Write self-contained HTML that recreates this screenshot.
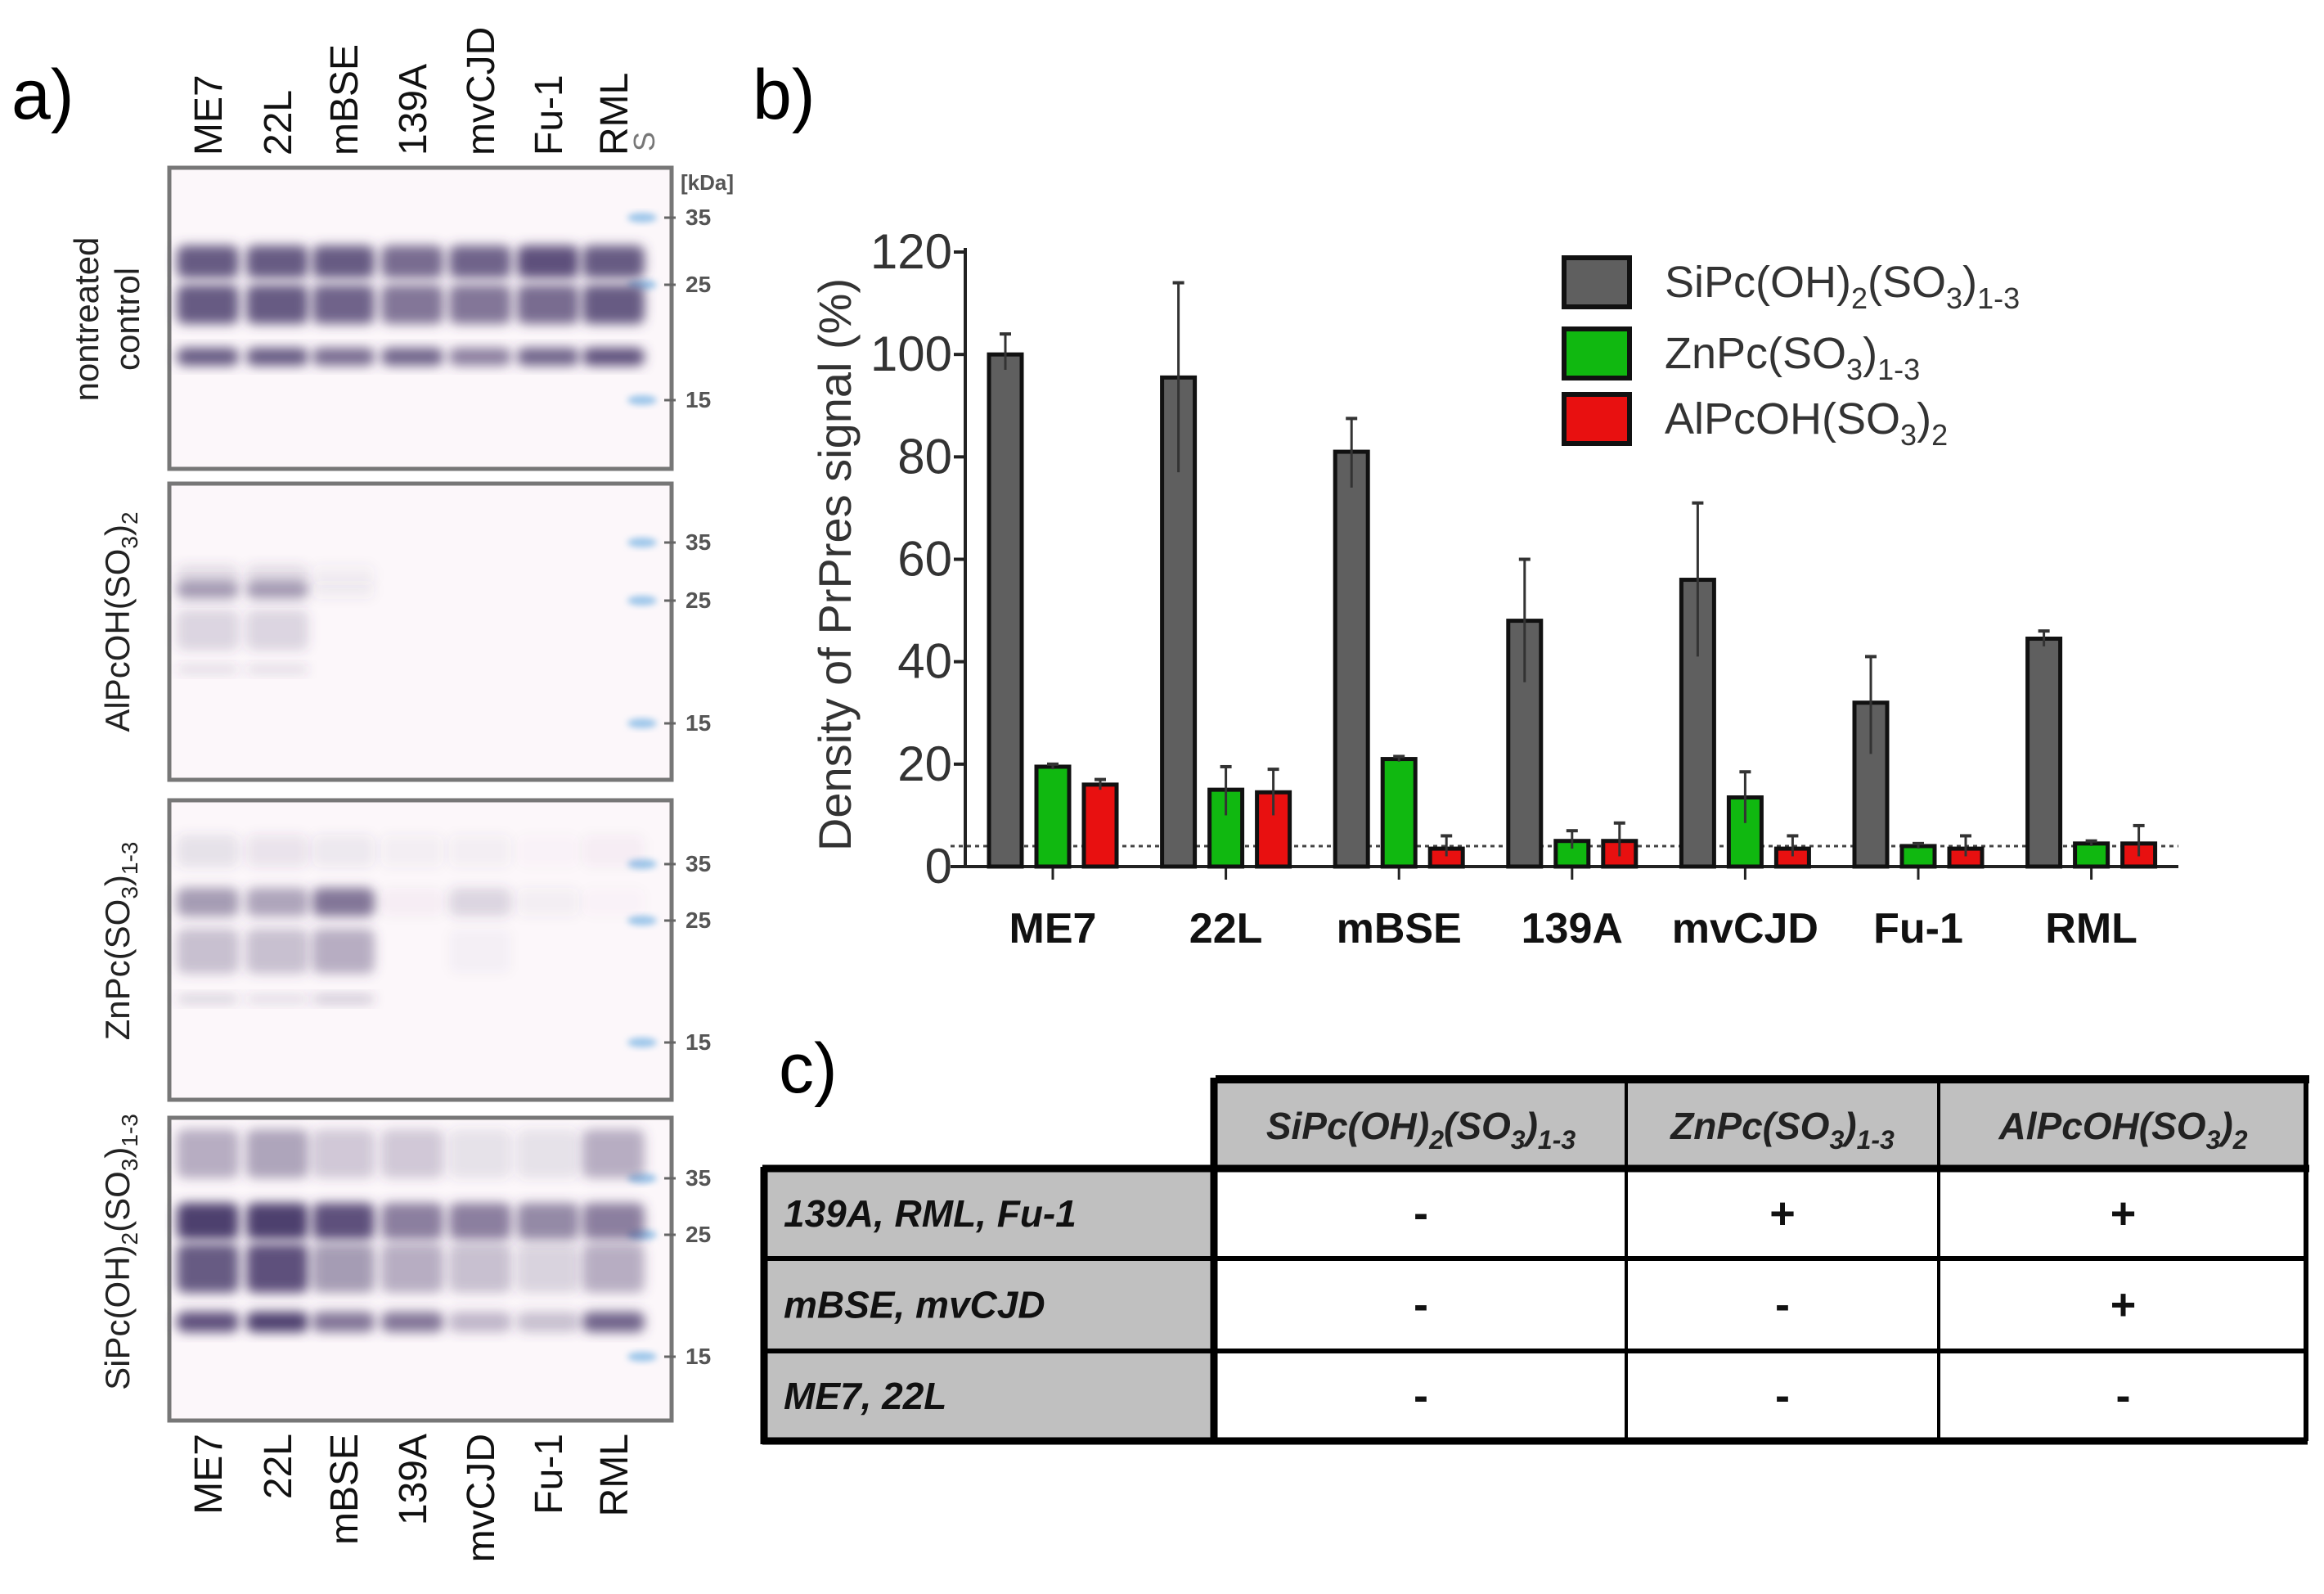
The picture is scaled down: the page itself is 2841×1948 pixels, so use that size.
<!DOCTYPE html>
<html><head><meta charset="utf-8"><style>
html,body{margin:0;padding:0;background:#fff;}
svg{display:block;font-family:"Liberation Sans",sans-serif;}
</style></head><body>
<svg id="fig" width="2841" height="1948" viewBox="0 0 2841 1948" xmlns="http://www.w3.org/2000/svg">
<defs>
<filter id="blur" x="-20%" y="-50%" width="140%" height="200%"><feGaussianBlur stdDeviation="7"/></filter>
<filter id="blur2" x="-20%" y="-50%" width="140%" height="200%"><feGaussianBlur stdDeviation="4"/></filter>
</defs>
<text x="14" y="145" font-size="86">a)</text>
<text x="920" y="145" font-size="86">b)</text>
<text x="952" y="1335" font-size="86">c)</text>
<g id="blots"></g>
<g id="chart"></g>
<g id="table"></g>
</svg>
<script>
const NS="http://www.w3.org/2000/svg";
function mk(tag,attrs,parent,txt){const e=document.createElementNS(NS,tag);for(const k in attrs)e.setAttribute(k,attrs[k]);if(txt!==undefined)e.textContent=txt;parent.appendChild(e);return e;}

// ---------- chart data ----------
const categories=["ME7","22L","mBSE","139A","mvCJD","Fu-1","RML"];
const siValues=[100,95.5,81,48,56,32,44.5];
const siErrHi=[104,114,87.5,60,71,41,46];
const siErrLo=[97,77,74,36,41,22,43];
const znValues=[19.5,15,21,5,13.5,4,4.5];
const znErrHi=[20,19.5,21.5,7,18.5,4.5,5];
const znErrLo=[19,10,20.5,3.5,8.5,3.5,4];
const alValues=[16,14.5,3.5,5,3.5,3.5,4.5];
const alErrHi=[17,19,6,8.5,6,6,8];
const alErrLo=[15,10,2,2,2,2,2];
const yTicks=[0,20,40,60,80,100,120];
const baselineValue=4;

const chart=document.getElementById('chart');
const X0=1180,X1=2663,Y0=1059,Y120=308;
const y=v=>Y0-(v/120)*(Y0-Y120);
const catX=i=>1287+i*211.6;
const bw=40;
let e;
e=mk('line',{x1:X0,y1:Y120-5,x2:X0,y2:Y0,stroke:'#222','stroke-width':4},chart);

e=mk('line',{x1:1162,y1:Y0,x2:X1,y2:Y0,stroke:'#222','stroke-width':4},chart);

yTicks.forEach(t=>{
  mk('line',{x1:X0-14,y1:y(t),x2:X0,y2:y(t),stroke:'#222','stroke-width':4},chart);
  e=mk('text',{x:X0-16,y:y(t)+20,'font-size':60,'text-anchor':'end',fill:'#333'},chart,String(t));
  
});
e=mk('text',{x:0,y:0,'font-size':56,'text-anchor':'middle',fill:'#333',transform:'translate(1040,690) rotate(-90)'},chart,'Density of PrPres signal (%)');

e=mk('line',{x1:1162,y1:y(baselineValue),x2:X1,y2:y(baselineValue),stroke:'#444','stroke-width':3,'stroke-dasharray':'5,5'},chart);

const series=[[siValues,siErrHi,siErrLo,'#5f5f5f',-58,'si'],[znValues,znErrHi,znErrLo,'#10b810',0,'zn'],[alValues,alErrHi,alErrLo,'#e81010',58,'al']];
categories.forEach((c,i)=>{
  const cx=catX(i);
  mk('line',{x1:cx,y1:Y0,x2:cx,y2:Y0+16,stroke:'#222','stroke-width':3},chart);
  e=mk('text',{x:cx,y:Y0+93,'font-size':52,'font-weight':'bold','text-anchor':'middle',fill:'#111'},chart,c);
  
  series.forEach(s=>{
    const bx=cx+s[4];
    e=mk('rect',{x:bx-bw/2,y:y(s[0][i]),width:bw,height:Y0-y(s[0][i]),fill:s[3],stroke:'#111','stroke-width':5},chart);
    
    mk('line',{x1:bx,y1:y(s[1][i]),x2:bx,y2:y(s[2][i]),stroke:'#333','stroke-width':3},chart);
    mk('line',{x1:bx-7,y1:y(s[1][i]),x2:bx+7,y2:y(s[1][i]),stroke:'#333','stroke-width':4},chart);
  });
});
const legNames=[['SiPc(OH)','2','(SO','3',')','1-3'],['ZnPc(SO','3',')','1-3'],['AlPcOH(SO','3',')','2']];
const legCols=['#5f5f5f','#10b810','#e81010'];
const legY=[315,402,482];
legNames.forEach((parts,k)=>{
  e=mk('rect',{x:1912,y:legY[k],width:80,height:60,fill:legCols[k],stroke:'#111','stroke-width':6},chart);
  
  const t=mk('text',{x:2035,y:legY[k]+48,'font-size':54,fill:'#333'},chart);
  
  parts.forEach((p,j)=>{const sub=(parts.length===6?[1,3,5]:[1,3]).includes(j);
    const ts=mk('tspan',{},t,p);if(sub){ts.setAttribute('font-size',36);ts.setAttribute('dy',14);}else if(j>0){ts.setAttribute('dy',-14);}});
});

// ---------- blots ----------
const blots=document.getElementById('blots');
const panels=[[205,573],[591,953],[978,1344],[1366,1736]];
const lanesX=[254,339,420,504,587,670,750];
const laneNames=["ME7","22L","mBSE","139A","mvCJD","Fu-1","RML"];
const markerY=[[266,348,489],[663,734,884],[1056,1125,1274],[1440,1509,1658]];
const bands=[
 [0,300,40,[.85,.85,.85,.75,.8,.9,.85]],[0,348,48,[.85,.85,.8,.7,.7,.75,.85]],[0,425,22,[.85,.85,.75,.8,.65,.8,.9]],
 [1,690,25,[.15,.15,.05,0,0,0,0]],[1,710,22,[.5,.5,.06,0,0,0,0]],[1,745,50,[.18,.18,0,0,0,0,0]],[1,812,12,[.15,.15,0,0,0,0,0]],
 [2,1085,35,[.5,.45,.7,.04,.18,.05,.02]],[2,1135,55,[.3,.3,.4,0,.03,0,0]],[2,1215,12,[.2,.15,.25,0,0,0,0]],[2,1020,40,[.12,.1,.08,.05,.05,.02,.04]],
 [3,1380,60,[.4,.45,.25,.25,.12,.12,.4]],[3,1470,45,[1,1,.9,.65,.65,.6,.65]],[3,1520,60,[.85,.9,.5,.4,.3,.2,.4]],[3,1603,25,[.9,1,.7,.7,.35,.3,.8]]
];
panels.forEach((p,pi)=>{
  e=mk('rect',{x:207,y:p[0],width:614,height:p[1]-p[0],fill:'#fcf7fa',stroke:'#777','stroke-width':5},blots);
  
  markerY[pi].forEach((my,j)=>{
    mk('ellipse',{cx:785,cy:my,rx:18,ry:6,fill:'#9cc6ea',filter:'url(#blur2)'},blots);
    mk('line',{x1:812,y1:my,x2:826,y2:my,stroke:'#666','stroke-width':3},blots);
    e=mk('text',{x:838,y:my+9,'font-size':28,'font-weight':'bold',fill:'#555'},blots,['35','25','15'][j]);
    
  });
});
bands.forEach(b=>{
  b[3].forEach((a,li)=>{ if(a<=0) return;
    mk('rect',{x:lanesX[li]-38,y:b[1],width:76,height:b[2],rx:10,fill:'#4e3f6e','fill-opacity':Math.min(1,a),filter:'url(#blur)'},blots);
  });
});
e=mk('text',{x:832,y:232,'font-size':26,'font-weight':'bold',fill:'#555'},blots,'[kDa]');

laneNames.forEach((n,i)=>{
  e=mk('text',{x:0,y:0,'font-size':48,'text-anchor':'start',fill:'#111',transform:`translate(${lanesX[i]+17},190) rotate(-90)`},blots,n);
  
  e=mk('text',{x:0,y:0,'font-size':48,'text-anchor':'end',fill:'#111',transform:`translate(${lanesX[i]+17},1752) rotate(-90)`},blots,n);
  
});
e=mk('text',{x:0,y:0,'font-size':36,fill:'#777',transform:'translate(800,185) rotate(-90)'},blots,'S');

function sideLabel(cx,cy,parts,name){
  const t=mk('text',{x:0,y:0,'font-size':42,'text-anchor':'middle',fill:'#222',transform:`translate(${cx},${cy}) rotate(-90)`},blots);
  
  parts.forEach(p=>{const ts=mk('tspan',{},t,p[0]);if(p[1])ts.setAttribute('font-size',28);if(p[2])ts.setAttribute('dy',p[2]);});
}
e=mk('text',{x:0,y:0,'font-size':42,'text-anchor':'middle',fill:'#222',transform:'translate(120,390) rotate(-90)'},blots,'nontreated');

e=mk('text',{x:0,y:0,'font-size':42,'text-anchor':'middle',fill:'#222',transform:'translate(170,390) rotate(-90)'},blots,'control');

sideLabel(158,760,[['AlPcOH(SO'],['3',1,10],[')',0,-10],['2',1,10]],'alpc-panel-label');
sideLabel(158,1150,[['ZnPc(SO'],['3',1,10],[')',0,-10],['1-3',1,10]],'znpc-panel-label');
sideLabel(158,1530,[['SiPc(OH)'],['2',1,10],['(SO',0,-10],['3',1,10],[')',0,-10],['1-3',1,10]],'sipc-panel-label');

// ---------- table ----------
const tbl=document.getElementById('table');
const colX=[1486,1988,2370,2821];
const rowY=[1428,1538,1651,1761];
const rowLabels=["139A, RML, Fu-1","mBSE, mvCJD","ME7, 22L"];
const cells=[["-","+","+"],["-","-","+"],["-","-","-"]];
e=mk('rect',{x:1486,y:1317,width:1335,height:111,fill:'#c0c0c0'},tbl);

e=mk('rect',{x:932,y:1428,width:554,height:333,fill:'#c0c0c0'},tbl);

mk('line',{x1:1486,y1:1319,x2:2823,y2:1319,stroke:'#000','stroke-width':10},tbl);
mk('line',{x1:932,y1:1428,x2:2823,y2:1428,stroke:'#000','stroke-width':9},tbl);
mk('line',{x1:932,y1:1538,x2:2821,y2:1538,stroke:'#000','stroke-width':6},tbl);
mk('line',{x1:932,y1:1651,x2:2821,y2:1651,stroke:'#000','stroke-width':6},tbl);
mk('line',{x1:932,y1:1761,x2:2821,y2:1761,stroke:'#000','stroke-width':9},tbl);
mk('line',{x1:934,y1:1426,x2:934,y2:1765,stroke:'#000','stroke-width':9},tbl);
mk('line',{x1:1484,y1:1317,x2:1484,y2:1765,stroke:'#000','stroke-width':9},tbl);
mk('line',{x1:1988,y1:1317,x2:1988,y2:1761,stroke:'#000','stroke-width':4},tbl);
mk('line',{x1:2370,y1:1317,x2:2370,y2:1761,stroke:'#000','stroke-width':4},tbl);
mk('line',{x1:2819,y1:1317,x2:2819,y2:1761,stroke:'#000','stroke-width':6},tbl);
const hdrs=[[['SiPc(OH)'],['2',1],['(SO'],['3',1],[')'],['1-3',1]],[['ZnPc(SO'],['3',1],[')'],['1-3',1]],[['AlPcOH(SO'],['3',1],[')'],['2',1]]];
hdrs.forEach((h,k)=>{
  const t=mk('text',{x:(colX[k]+colX[k+1])/2,y:1392,'font-size':46,'font-style':'italic','font-weight':'bold','text-anchor':'middle',fill:'#222'},tbl);
  
  let prevSub=false;
  h.forEach(p=>{const ts=mk('tspan',{},t,p[0]);if(p[1]){ts.setAttribute('font-size',32);if(!prevSub)ts.setAttribute('dy',12);prevSub=true;}else{if(prevSub)ts.setAttribute('dy',-12);prevSub=false;}});
});
rowLabels.forEach((r,i)=>{
  e=mk('text',{x:958,y:(rowY[i]+rowY[i+1])/2+16,'font-size':46,'font-style':'italic','font-weight':'bold',fill:'#111'},tbl,r);
  
  cells[i].forEach((c,k)=>{
    e=mk('text',{x:(colX[k]+colX[k+1])/2,y:(rowY[i]+rowY[i+1])/2+18,'font-size':54,'font-weight':'bold','text-anchor':'middle',fill:'#111'},tbl,c);
    
  });
});
</script>
</body></html>
